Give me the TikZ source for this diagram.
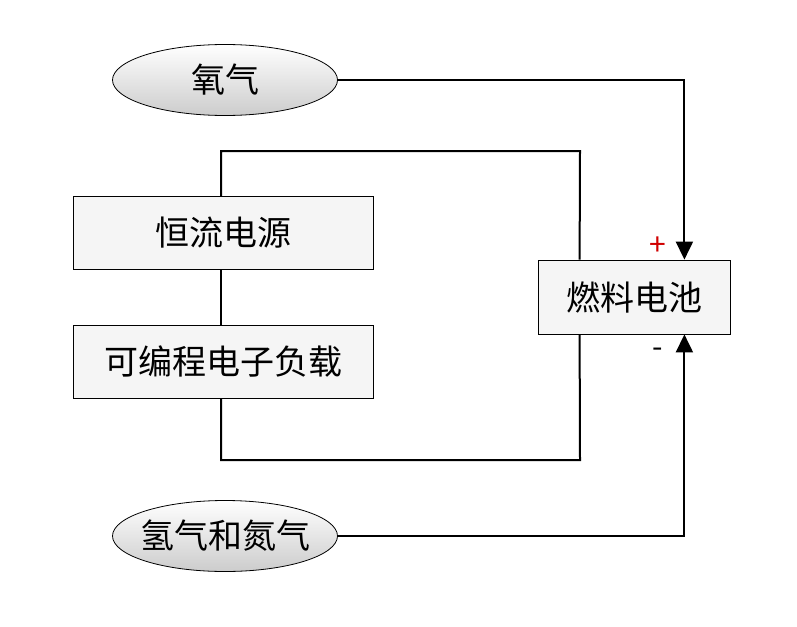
\documentclass[tikz,border=0pt]{standalone}
\usepackage{fontspec}
\setmainfont{Noto Sans CJK SC}
\usepackage{xcolor}
\usetikzlibrary{shapes.geometric,arrows.meta,positioning,calc}
\definecolor{boxgray}{HTML}{F5F5F5}
\definecolor{plusred}{HTML}{D00000}
\tikzset{
  gas/.style={ellipse, draw=black, line width=0.8pt, inner xsep=-8pt, minimum width=225pt, minimum height=71pt, top color=white, bottom color=black!20, font=\fontsize{34}{38}\selectfont},
  unit/.style={rectangle, draw=black, line width=0.8pt, fill=boxgray, minimum width=300pt, minimum height=73pt, font=\fontsize{34}{38}\selectfont},
  cellbox/.style={rectangle, draw=black, line width=0.8pt, fill=boxgray, minimum width=192pt, minimum height=74pt, font=\fontsize{34}{38}\selectfont},
  wire/.style={line width=2pt},
  feed/.style={line width=2pt, -{Triangle[length=18pt,width=17pt]}},
  pole/.style={font=\fontsize{30}{32}\selectfont},
}

\begin{document}
\begin{tikzpicture}[x=1pt,y=-1pt]
  \useasboundingbox (0,0) rectangle (797,626);
  % gases
  \node[gas] (ox) at (225,80) {氧气};
  \node[gas] (hn) at (225,536) {氢气和氮气};
  % electrical units
  \node[unit] (src) at (223,233) {恒流电源};
  \node[unit] (load) at (223,362) {可编程电子负载};
  \node[cellbox] (cell) at (634,297) {燃料电池};
  % wiring loop
  \coordinate (ct) at ([xshift=42pt]cell.north west);
  \coordinate (cb) at ([xshift=42pt]cell.south west);
  \draw[wire] (src.north -| 221,0) |- (580,151) -- (ct);
  \draw[wire] (src.south -| 221,0) -- (load.north -| 221,0);
  \draw[wire] (load.south -| 221,0) |- (580,460) -- (cb);
  % gas feeds
  \draw[feed] (ox.east) -| ([xshift=-46pt]cell.north east);
  \draw[feed] (hn.east) -| ([xshift=-46pt]cell.south east);
  % poles
  \node[pole, text=plusred] (plus) at (658,246) {+};
  \node[pole] (minus) at (658,353) {-};
\end{tikzpicture}
\end{document}
